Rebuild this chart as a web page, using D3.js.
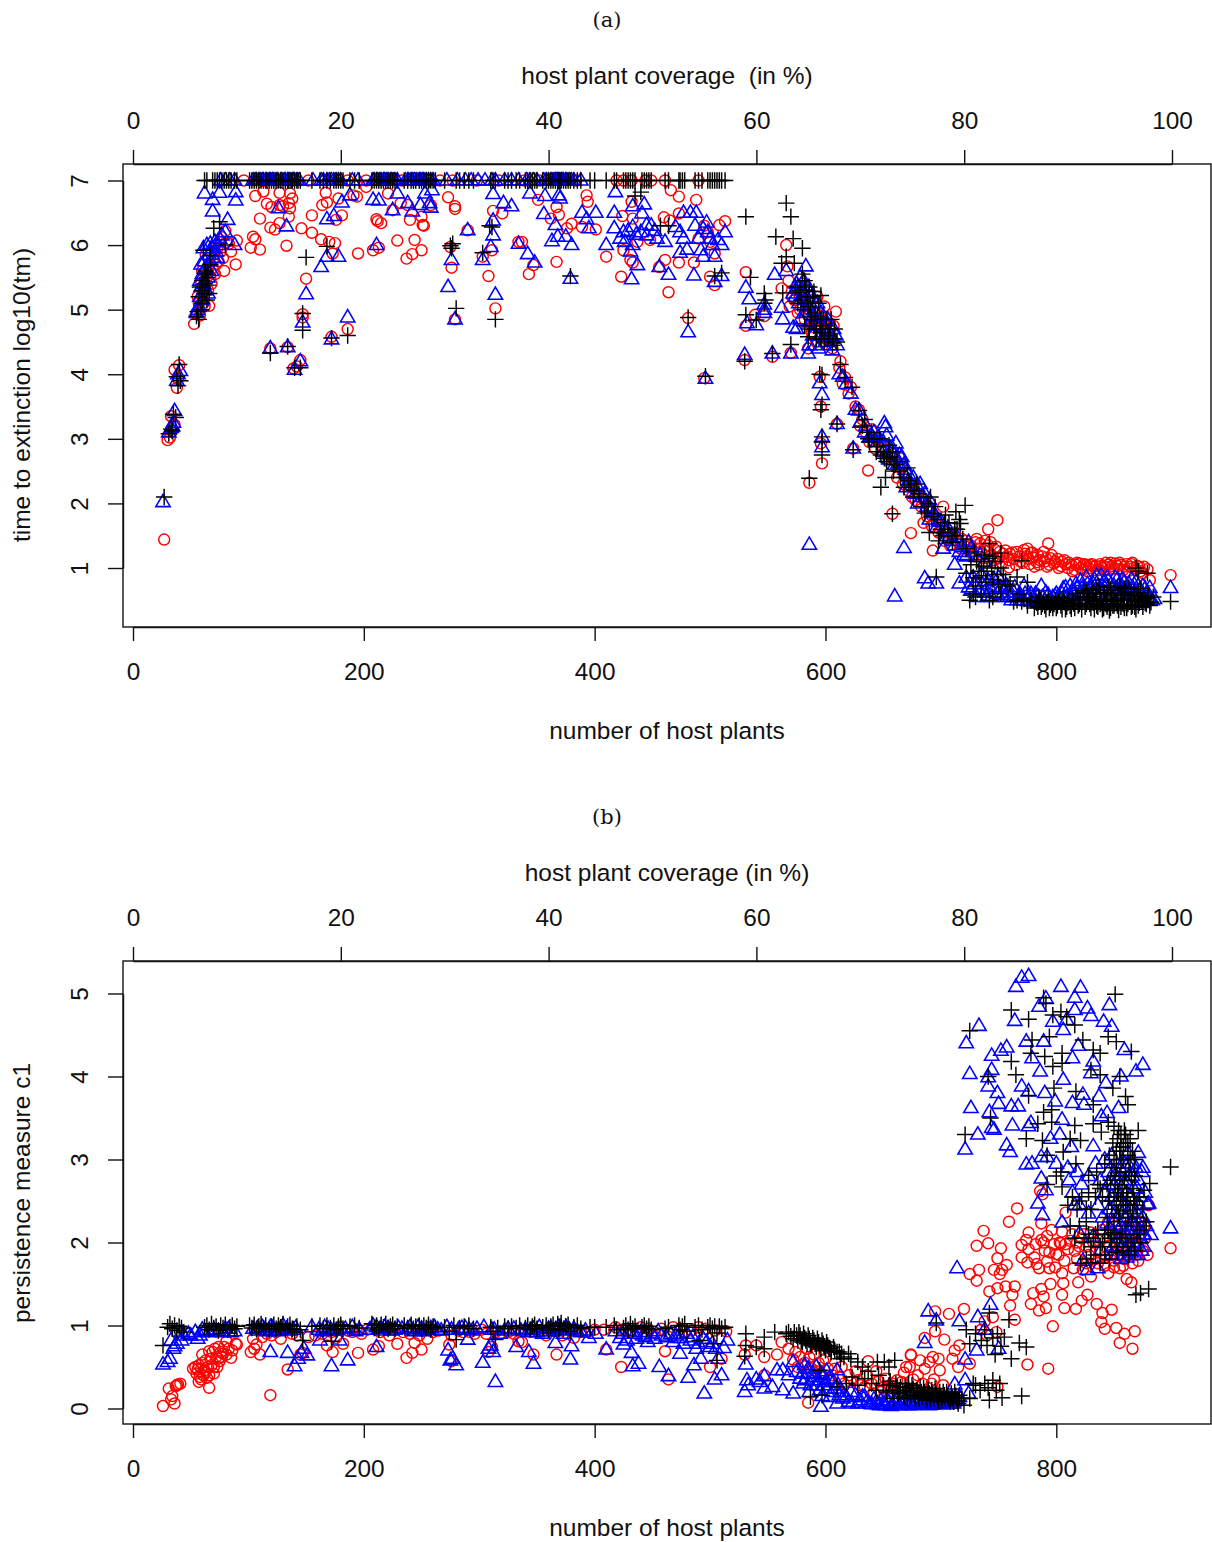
<!DOCTYPE html>
<html>
<head>
<meta charset="utf-8">
<script src="https://cdnjs.cloudflare.com/ajax/libs/d3/7.8.5/d3.min.js"></script>
<style>
    html, body { margin: 0; padding: 0; background: #fff; }
    svg { display: block; }
    text { font-family: "Liberation Sans", Arial, sans-serif; fill: #111; }
    .tag { font-family: "DejaVu Serif", "Liberation Serif", serif; }
</style>
</head>
<body>
<div id="chart"></div>
<script>
// Two scatter panels: extinction time and persistence against host plant count

const xTicks = [0, 200, 400, 600, 800];
const coverageTicks = [0, 20, 40, 60, 80, 100];
const yTicksA = [1, 2, 3, 4, 5, 6, 7];
const yTicksB = [0, 1, 2, 3, 4, 5];

// panel (a): crosses sitting on the 10^7 ceiling, x only
const plusCeilingA = [62,64,69,71,73,75,77,79,81,83,85,88,90,
    101,103,105,107,109,111,113,115,116,118,120,122,124,126,128,130,132,134,135,137,138,140,142,143,145,
    155,162,165,168,171,174,176,178,180,182,188,192,196,
    207,209,211,213,215,217,219,221,223,225,227,229,235,238,241,243,245,248,250,252,254,256,258,260,262,
    270,280,283,287,291,295,310,312,314,322,325,328,332,335,340,342,344,346,348,350,
    355,358,360,362,364,366,368,369,370,371,373,375,377,379,382,385,388,396,400,410,417,419,
    425,427,429,431,433,435,441,443,445,447,449,461,464,473,474,476,478,487,490,493,498,500,502,504,506,508,510,513];
const triangleCeilingA = [76,80,84,88,104,106,107,109,110,112,113,115,116,118,119,121,122,124,125,128,129,131,132,134,135,136,138,139,140,142,144,
    156,163,165,168,170,172,174,176,178,180,190,195,208,209,211,212,214,215,217,218,220,221,223,224,226,227,229,236,238,239,241,242,244,246,248,249,251,252,254,256,258,260,
    272,281,288,293,299,305,311,314,322,328,334,341,344,347,350,356,358,360,362,363,365,366,367,368,369,370,371,372,373,375,376,378,380,382,388];
const circleCeilingA = [96,126,138,152,186,202,233,266,277,298,317,339,352,384,419,425,432,444,449,461,490];

const circlesA = [[27,1.44],[30,2.98],[32,3.02],[34,3.12],[36,3.22],[33,3.35],[38,3.79],[36,4.07],[40,4.14],[39,3.93],
    [53,4.78],[66,5.06],[58,4.91],[60,5.2],[62,5.35],[57,5.1],[64,5.5],[68,5.4],[60,5.6],[66,5.7],[71,5.55],[63,5.85],[70,5.8],[74,5.75],[79,5.6],
    [89,5.7],[85,5.9],[90,6.07],[80,6.22],[75,6.05],[71,5.99],[77,6.12],[83,6.02],[68,5.9],
    [106,6.76],[113,6.83],[116,6.64],[120,6.59],[127,6.81],[136,6.8],[138,6.72],[135,6.65],[136,6.57],[127,6.62],[110,6.41],[119,6.27],[123,6.24],[127,6.34],[135,6.44],[130,6.6],
    [104,6.13],[106,6.09],[102,5.96],[110,5.93],[133,5.99],[146,6.26],[155,6.19],[155,6.46],[163,6.09],[175,6.03],[170,6.05],[173,5.87],[176,6.39],[181,6.46],[164,6.62],[168,6.66],[167,6.81],[178,6.72],
    [194,6.75],[191,6.77],[202,6.9],[221,6.8],[211,6.4],[212,6.37],[215,6.34],[208,5.92],[213,5.96],[195,5.87],[229,6.07],[244,6.08],[250,5.92],[242,5.86],[237,5.79],[240,6.39],[250,6.44],[251,6.31],[252,6.3],
    [225,6.54],[232,6.65],[238,6.62],[258,6.62],[273,6.74],[279,6.6],[279,6.56],[290,6.23],[275,5.97],[276,5.65],[308,5.52],[303,5.82],[311,5.92],[312,6.53],[320,6.49],[334,6.05],[314,5.02],[279,4.85],
    [186,4.7],[150,5.48],[147,4.93],[147,4.88],[172,4.58],[145,4.22],[139,4.09],[119,4.4],[134,4.42],[142,4.12],
    [337,6.05],[343,5.55],[347,5.69],[351,6.7],[367,5.74],[367,6.59],[369,6.47],[362,6.41],[393,6.77],[394,6.67],[380,6.33],[389,6.28],[401,6.24],[376,6.26],[410,5.82],[423,5.51],[424,6.45],[432,6.67],[433,6.41],[431,5.77],[433,5.73],[425,5.92],[437,6.05],[448,6.08],[456,5.66],[461,5.77],[473,5.73],[486,5.73],[464,5.27],[466,6.85],[473,6.75],[488,6.7],[460,6.43],[465,6.38],[473,6.49],[481,4.87],[508,6.31],[513,6.37],[495,3.94],[504,5.87],[500,5.51],[504,5.38],[490,6.1],[495,6.3],[498,6.2],[500,6.05],
    [531,5.58],[531,4.75],[539,4.92],[547,4.9],[566,6.0],[567,5.67],[562,5.33],[554,4.27],[530,4.22],[570,4.33],[585,4.4],[609,4.97],
    [613,4.2],[595,3.96],[573,5.15],[578,5.0],[582,4.85],[577,5.25],[585,5.3],[590,5.1],[594,4.95],[598,4.8],[603,4.7],[588,4.65],[592,4.5],[600,4.55],[606,4.4],
    [586,2.32],[597,2.62],[596,2.93],[596,3.5],[610,3.23],[624,2.85],[629,3.45],[637,2.51],[658,1.84],[674,1.54],[702,1.95],[693,1.27],[749,1.74],[741,1.6],[759,1.01],[793,1.38],[775,1.3],[778,1.23],[899,0.89],[879,0.98],[881,0.81],
    [617,3.95],[622,3.8],[632,3.3],[640,3.15],[645,3.0],[650,2.85],[655,2.75],[660,2.65],[665,2.55],[670,2.45],[676,2.3],[680,2.15],[686,2.05],[690,1.9],[696,1.75],[700,1.65],[705,1.55],[710,1.5],[715,1.4],
    [718,1.45],[722,1.42],[726,1.35],[730,1.4],[732,1.3],[735,1.25],[738,1.42],[741,1.35],[744,1.2],[747,1.28],[750,1.15],[754,1.22],[757,1.18],[760,1.22],[763,1.14],[766,1.25],[769,1.1],[772,1.28],[774,1.18],[777,1.06],[780,1.16],[783,1.09],[785,1.05],[788,1.18],[790,1.1],[792,1.02],[795,1.15],[798,1.07],[801,1.14],[804,1.03],[807,1.12],[810,1.0],[813,1.05],[816,0.97],[818,1.08],[821,1.0],[824,1.06],[827,0.95],[829,1.05],[832,1.02],[835,0.96],[838,1.06],[840,1.0],[843,1.08],[846,0.97],[848,1.03],[851,1.07],[854,0.98],[856,1.05],[859,1.02],[862,0.95],[865,1.06],[867,1.0],[870,1.03],[873,0.95],[876,1.02]];
const denseCirclesA = [[720,1.35],[724,1.28],[728,1.2],[731,1.45],[734,1.38],[737,1.15],[740,1.3],[743,1.4],[746,1.12],[748,1.33],[751,1.25],[753,1.08],[756,1.27],[759,1.12],[762,1.24],[765,1.05],[768,1.18],[771,1.08],[773,1.22],[776,1.14],[779,1.24],[781,1.02],[784,1.2],[786,1.12],[789,1.25],[791,1.15],[794,1.05],[796,1.2],[799,1.1],[802,1.0],[805,1.1],[808,1.06],[811,1.08],[814,0.95],[817,1.05],[820,1.07],[823,0.97],[826,1.05],[828,1.0],[831,1.06],[834,1.03],[837,0.97],[839,1.03],[842,1.02],[845,1.05],[847,1.08],[850,0.99],[853,1.03],[855,1.08],[858,0.97],[861,1.06],[864,1.02],[866,1.08],[869,0.97],[872,1.02],[875,0.92],
    [612,4.1],[615,3.85],[620,3.7],[626,3.5],[630,3.2],[635,3.1],[638,2.95],[643,2.85],[648,2.95],[652,2.7],[657,2.6],[662,2.4],[667,2.3],[672,2.2],[678,2.05],[683,1.95],[688,1.8],[692,1.65],[698,1.55],[703,1.42],[708,1.35],[712,1.55],[717,1.3],[685,1.7],[675,2.1],[665,2.7],
    [580,5.4],[583,5.1],[586,5.0],[589,4.85],[591,4.72],[593,5.2],[596,4.6],[599,5.05],[601,4.85],[604,4.55],[607,4.75],[576,4.95],[574,5.3],[571,5.2],[568,5.45],[569,5.05],
    [55,4.95],[59,5.4],[61,5.1],[63,5.6],[65,5.3],[67,5.5],[69,5.65],[72,5.7],[73,5.95],[76,5.9],[78,5.8],[81,6.05],[62,5.05],[56,5.2]];

const trianglesA = [[26,2.02],[31,3.1],[33,3.17],[35,3.25],[36,3.43],[34,3.2],[39,4.0],[41,4.05],[38,3.9],
    [55,4.95],[57,5.05],[59,5.35],[60,5.55],[62,5.75],[64,6.0],[66,5.85],[68,5.6],[70,5.8],[58,5.2],[63,5.3],[72,5.9],[61,5.95],[67,6.02],[75,6.1],
    [62,6.8],[75,6.81],[89,6.82],[89,6.69],[69,6.7],[69,6.52],[82,6.39],[80,6.2],[88,6.0],[74,6.0],
    [126,6.57],[133,6.29],[168,6.4],[174,6.45],[181,6.66],[188,6.77],[208,6.7],[213,6.69],[225,6.54],[229,6.8],[238,6.65],[242,6.52],[249,6.62],[257,6.65],[258,6.58],[253,6.8],[259,6.85],[211,6.0],[178,5.82],[168,5.82],[163,5.66],[150,5.24],[147,4.8],[119,4.4],[134,4.42],[145,4.2],[140,4.07],[172,4.54],[186,4.88],
    [290,6.23],[276,5.77],[273,5.35],[279,4.85],[312,6.79],[321,6.65],[328,6.6],[312,6.38],[312,6.15],[310,5.97],[303,5.77],[314,5.23],[334,6.02],
    [344,6.8],[357,6.76],[342,5.86],[348,5.73],[356,6.48],[366,6.31],[363,6.06],[368,6.13],[375,6.13],[380,6.0],[369,6.77],[370,6.72],[389,6.5],[401,6.5],[393,6.4],[395,6.26],[417,6.5],[417,6.26],[410,6.0],[379,5.48],[418,6.82],
    [433,6.6],[443,6.63],[441,6.49],[433,6.28],[422,6.1],[426,6.05],[433,6.0],[431,5.9],[437,5.69],[432,5.47],[445,6.31],[445,6.15],[454,6.1],[461,6.05],[456,5.66],[464,5.54],[477,6.5],[483,6.5],[488,6.5],[474,6.2],[477,6.1],[474,5.88],[480,5.93],[486,5.53],[497,6.35],[487,6.3],[490,6.1],[492,5.92],[494,5.82],[504,5.82],[500,6.1],[507,6.08],[513,6.2],[510,6.0],[510,5.52],[504,5.43],[481,4.65],[496,3.93],
    [425,6.2],[429,6.22],[436,6.16],[440,6.2],[449,6.3],[452,6.22],[470,6.28],[498,6.2],[502,6.0],[494,6.25],
    [531,5.34],[534,5.16],[532,4.79],[540,4.76],[547,5.0],[547,4.95],[547,5.08],[556,5.54],[566,5.6],[562,5.03],[563,4.85],[530,4.3],[554,4.32],[570,4.32],[585,4.32],[583,5.67],[572,4.72],[606,4.37],[615,3.96],[595,3.86],[597,3.68],
    [572,5.25],[575,5.4],[578,5.5],[580,5.3],[577,5.1],[582,5.15],[585,5.35],[588,5.2],[583,4.95],[586,4.8],[590,5.0],[592,4.75],[595,4.6],[598,4.9],[600,4.5],[603,4.65],[606,4.55],[609,4.6],[591,4.45],
    [586,1.36],[597,3.03],[597,2.87],[610,3.23],[624,2.85],[629,3.44],[651,3.24],[652,3.18],[661,2.93],[668,1.31],[660,0.56],[686,0.84],[689,0.76],[696,0.76],[702,1.3],[712,1.05],[724,1.4],[716,0.76],
    [635,3.2],[640,3.05],[645,2.95],[650,2.8],[655,2.68],[658,2.85],[664,2.75],[668,2.6],[672,2.45],[676,2.4],[680,2.25],[684,2.1],[690,2.05],[694,1.85],[698,1.72],[703,1.6],[708,1.5],[712,1.35],[716,1.25],[720,1.2],[728,1.25],[734,1.2],[738,1.1],
    [722,0.85],[726,0.65],[729,0.75],[731,0.55],[735,0.9],[738,0.62],[741,0.8],[744,0.55],[747,0.7],[750,0.85],[753,0.58],[757,0.72],[760,0.55],[763,0.62],[766,0.5],[769,0.58],[772,0.72],[775,0.5],[778,0.6],[781,0.52],[784,0.56],[787,0.72],[790,0.5],[793,0.58],[796,0.5],[799,0.56],[802,0.46],[805,0.6],[808,0.7],[811,0.52],[814,0.62],[817,0.75],[820,0.58],[823,0.7],[826,0.85],[829,0.6],[832,0.75],[835,0.88],[838,0.62],[841,0.78],[844,0.85],[847,0.58],[850,0.72],[853,0.83],[856,0.6],[859,0.78],[862,0.65],[865,0.82],[868,0.55],[871,0.72],[874,0.6],[877,0.68],[880,0.55],[881,0.69],[883,0.5],[899,0.69],
    [786,0.46],[800,0.44],[815,0.48],[830,0.5],[845,0.52],[860,0.48],[875,0.46],[885,0.52]];
const denseTrianglesA = [[612,4.0],[618,3.85],[622,3.7],[626,3.45],[630,3.25],[634,3.1],[638,3.02],[642,3.1],[646,3.02],[650,2.95],[653,3.05],[656,2.85],[660,2.75],[663,2.62],[666,2.72],[669,2.52],[672,2.35],[675,2.28],[678,2.15],[682,2.3],[686,2.15],[688,1.95],[692,1.9],[696,1.62],[700,1.72],[704,1.45],[706,1.62],[710,1.42],[714,1.48],[718,1.32],[722,1.18],[726,1.3],[660,2.6],[670,2.25],[680,2.0],[690,1.75],
    [724,0.7],[728,0.85],[733,0.65],[736,0.75],[740,0.55],[743,0.68],[746,0.82],[749,0.6],[752,0.7],[755,0.55],[758,0.62],[761,0.5],[764,0.7],[767,0.55],[770,0.5],[773,0.6],[776,0.55],[779,0.48],[782,0.6],[785,0.5],[788,0.55],[791,0.62],[794,0.48],[797,0.55],[800,0.6],[803,0.52],[806,0.68],[809,0.55],[812,0.72],[815,0.6],[818,0.68],[821,0.8],[824,0.62],[827,0.75],[830,0.68],[833,0.82],[836,0.72],[839,0.88],[842,0.68],[845,0.8],[848,0.68],[851,0.85],[854,0.72],[857,0.82],[860,0.68],[863,0.75],[866,0.7],[869,0.78],[872,0.65],[875,0.72],[878,0.6],
    [574,5.2],[576,5.35],[579,5.2],[581,5.45],[584,5.05],[587,5.25],[589,4.9],[593,5.1],[596,4.95],[599,4.7],[602,4.85],[604,4.45],[607,4.7],[610,4.45],[589,4.6],[586,4.45],[594,4.4],[578,4.85],[575,4.7],
    [56,5.0],[58,5.45],[60,5.15],[61,5.4],[63,5.65],[65,5.5],[67,5.75],[69,5.95],[71,6.05],[73,5.8],[77,6.15],[65,5.25],[59,5.7]];

const plusA = [[27,2.1],[31,3.08],[33,3.15],[35,3.38],[37,3.33],[34,3.12],[40,4.15],[38,3.96],[39,3.82],[41,3.9],
    [70,6.26],[75,6.36],[80,6.0],[61,5.92],[67,5.84],[62,5.56],[64,5.5],[58,5.35],[60,5.3],[66,5.25],[62,5.4],[65,5.38],[56,4.97],[55,4.9],[59,5.0],
    [150,5.81],[168,5.98],[147,4.94],[147,4.68],[119,4.33],[134,4.43],[140,4.1],[145,4.1],[172,4.56],[186,4.6],[275,5.99],[276,5.95],[277,6.02],[280,5.02],[314,4.85],[311,6.28],[303,5.88],[309,6.3],
    [379,5.52],[435,6.76],[440,6.82],[457,6.3],[464,6.3],[481,4.88],[496,3.97],[504,5.52],[510,5.57],
    [531,6.44],[535,5.5],[547,5.25],[548,5.15],[547,5.1],[531,4.92],[540,4.84],[554,4.32],[530,4.2],[570,4.46],[566,6.65],[570,6.44],[557,6.13],[572,6.1],[580,5.95],[566,5.82],[562,5.72],[573,5.72],[580,5.55],[586,5.35],[563,5.26],[576,5.26],[596,5.22],
    [574,5.35],[578,5.3],[582,5.45],[584,5.2],[587,5.1],[590,5.28],[588,4.85],[590,4.75],[593,4.9],[595,4.7],[596,4.55],[598,4.85],[600,4.75],[603,4.6],[605,4.85],[607,4.55],[592,4.55],[585,4.58],
    [595,4.0],[613,4.15],[617,3.95],[623,3.8],[597,3.99],[597,3.53],[596,3.45],[597,3.03],[597,2.95],[597,2.75],[586,2.39],[610,3.23],[624,2.83],[629,3.44],
    [632,3.2],[636,3.1],[638,2.95],[642,3.0],[645,2.88],[648,2.75],[651,2.7],[655,2.9],[658,2.8],[660,2.6],[664,2.5],[668,2.4],[671,2.55],[674,2.3],[677,2.2],[681,2.15],[658,1.84],[685,2.1],[688,1.95],[691,2.1],[694,1.85],[697,1.75],[700,1.6],[703,1.7],[706,1.55],[709,1.5],[712,1.6],[698,1.42],[690,1.55],[652,2.4],[648,2.25],
    [721,1.97],[713,1.87],[717,1.69],[714,1.6],[696,0.86],[742,1.38],[729,1.25],[745,1.18],[752,1.23],[735,1.1],[738,1.2],[770,1.11],[775,0.78],[766,0.86],[722,0.92],[725,0.5],[742,0.5],[763,0.48],[730,0.72],[735,0.88],[740,0.95],[745,0.82],[750,0.75],[754,0.9],[758,0.72],[728,0.6],
    [772,0.52],[775,0.42],[778,0.5],[781,0.38],[783,0.46],[785,0.55],[787,0.4],[789,0.48],[791,0.36],[793,0.52],[795,0.43],[797,0.38],[799,0.5],[801,0.42],[803,0.55],[805,0.36],[807,0.47],[809,0.4],[811,0.52],[813,0.37],[815,0.45],[817,0.6],[819,0.42],[821,0.5],[822,0.36],[824,0.65],[826,0.44],[828,0.55],[830,0.38],[831,0.68],[833,0.48],[834,0.6],[836,0.4],[837,0.72],[839,0.5],[840,0.36],[842,0.62],[843,0.44],[845,0.7],[846,0.34],[848,0.55],[849,0.42],[851,0.66],[852,0.48],[854,0.35],[855,0.72],[857,0.58],[858,0.44],[860,0.63],[861,0.38],[863,0.7],[864,0.5],[866,0.42],[867,0.62],[869,0.36],[870,0.56],[872,0.46],[873,0.68],[875,0.4],[876,0.52],[878,0.44],[880,0.58],[882,0.47],[884,0.55],[869,1.0],[871,0.95],[879,0.92],[899,0.48]];
const densePlusA = [[782,0.48],[784,0.4],[786,0.5],[788,0.44],[790,0.42],[792,0.47],[794,0.38],[796,0.46],[798,0.44],[800,0.38],[802,0.48],[804,0.42],[806,0.52],[808,0.36],[810,0.46],[812,0.41],[814,0.5],[816,0.38],[818,0.5],[820,0.44],[823,0.56],[825,0.4],[827,0.5],[829,0.44],[832,0.56],[833,0.36],[835,0.5],[835,0.66],[838,0.44],[838,0.6],[841,0.52],[841,0.38],[844,0.58],[844,0.4],[847,0.48],[847,0.66],[850,0.42],[850,0.58],[853,0.5],[853,0.7],[856,0.4],[856,0.6],[859,0.5],[859,0.68],[862,0.44],[862,0.58],[865,0.4],[865,0.62],[868,0.48],[868,0.58],[871,0.42],[871,0.62],[874,0.5],[877,0.46],[879,0.54],[881,0.42],
    [826,0.62],[829,0.52],[832,0.46],[835,0.42],[838,0.52],[841,0.62],[844,0.5],[847,0.38],[850,0.5],[853,0.42],[856,0.5],[859,0.38],[862,0.52],[865,0.5],[868,0.4],[871,0.52],
    [634,3.3],[637,3.0],[640,3.1],[644,2.8],[647,3.0],[650,2.8],[653,2.65],[656,2.72],[659,2.5],[662,2.65],[665,2.4],[668,2.25],[672,2.35],[676,2.1],[679,2.3],[683,1.95],[686,1.85],[689,2.0],[692,1.8],[695,1.95],[699,1.55],[702,1.5],[704,1.82],[707,1.7],[710,1.4],[713,1.5],[716,1.75],[719,1.45],[722,1.3],
    [726,1.05],[728,0.85],[731,1.1],[733,0.95],[737,1.02],[739,0.78],[742,1.15],[744,1.0],[747,1.1],[749,0.9],[752,1.0],[756,0.8],[760,0.75],[730,0.55],[735,0.6],[745,0.55],[752,0.6],[766,0.5],[768,0.6],[770,0.48],
    [576,5.1],[579,5.15],[581,5.0],[583,5.3],[585,5.05],[587,4.9],[589,5.2],[591,4.95],[592,4.7],[594,5.1],[596,4.85],[597,4.65],[599,4.5],[601,4.85],[602,4.55],[604,4.7],[606,4.45],[608,4.7],[586,4.7],[582,4.75],[610,4.5],
    [57,5.2],[60,5.45],[62,5.25],[63,5.6],[65,5.55],[67,5.7],[57,4.85],[60,5.1],[64,5.15]];

// panel (b)
const circlesB = [[26,0.03],[34,0.15],[31,0.24],[38,0.28],[41,0.3],[36,0.06],[33,0.11],[37,0.27],[39,0.29],
    [66,0.25],[57,0.32],[52,0.48],[60,0.65],[66,0.69],[74,0.74],[81,0.81],[90,0.77],[89,0.78],[85,0.61],[81,0.65],[75,0.57],[70,0.5],[63,0.44],[59,0.48],[64,0.37],[56,0.47],[61,0.4],[68,0.52],[72,0.62],[78,0.66],[54,0.5],[58,0.38],
    [102,0.68],[107,0.77],[110,0.65],[105,0.72],[119,0.16],[134,0.47],[147,0.67],[145,0.65],[173,0.68],[168,0.76],[195,0.67],[208,0.71],[213,0.75],[229,0.78],[244,0.79],[250,0.71],[242,0.67],[237,0.61],[274,0.77],[276,0.57],[308,0.68],[311,0.74],[334,0.81],
    [112,0.86],[120,0.88],[128,0.84],[138,0.9],[152,0.86],[158,0.88],[176,0.85],[182,0.78],[190,0.92],[203,0.95],[222,0.88],[234,0.92],[248,0.88],[255,0.84],[265,0.94],[286,0.92],[296,0.9],[302,0.95],[318,0.9],[325,0.92],[340,0.95],
    [347,0.65],[367,0.65],[337,0.8],[410,0.71],[423,0.5],[464,0.35],[461,0.69],[500,0.5],[510,0.6],[514,0.93],[372,0.88],[388,0.92],[400,0.95],[418,0.98],[430,0.92],[446,0.96],[468,0.98],[484,0.94],[496,0.96],
    [531,0.76],[530,0.65],[540,0.76],[547,0.62],[558,0.65],[547,0.4],[562,0.8],[585,0.07],[572,0.59],[586,0.62],[598,0.58],[580,0.52],[612,0.38],[620,0.4],[637,0.57],[644,0.45],[674,0.65],[670,0.5],[668,0.43],[628,0.34],[634,0.26],[652,0.36],[592,0.45],[602,0.48],[606,0.4],[576,0.5],[640,0.3],[648,0.2],[656,0.28],[662,0.34],[680,0.4],[692,0.3],
    [766,2.41],[759,2.25],[737,2.14],[731,1.96],[741,1.99],[752,1.93],[749,1.81],[757,1.73],[725,1.62],[733,1.67],[731,1.54],[746,1.67],[753,1.67],[751,1.62],[742,1.41],[749,1.45],[756,1.47],[764,1.47],[762,1.37],[760,1.24],[764,1.07],[720,1.2],[707,1.14],[695,1.17],[703,0.83],[695,0.93],[686,0.85],[674,0.64],[693,0.62],[712,0.7],[716,0.76],[710,0.6],[715,0.5],[725,0.54],[775,0.53],[793,0.48],[749,0.26],[673,0.5],[686,0.48],[690,0.56],[699,0.46],[682,0.58],[698,0.6],
    [735,0.95],[738,1.05],[745,1.1],[740,0.88],[748,0.92],
    [797,0.99],[778,1.26],[780,1.39],[787,1.44],[789,1.35],[785,1.18],[791,1.21],[805,1.37],[807,1.21],[817,1.2],[822,1.3],[827,1.37],[835,1.26],[840,1.15],[848,1.19],[839,1.04],[842,0.96],[852,0.97],[859,0.9],[868,0.93],[855,0.79],[866,0.72],[861,1.56],[865,1.52],
    [770,1.82],[770,1.97],[774,2.03],[776,2.12],[776,1.92],[781,1.82],[785,1.69],[794,1.69],[795,1.5],[806,1.51],[805,1.63],[819,1.52],[787,2.03],[789,2.0],[792,1.77],[799,1.7],[807,1.78],[815,1.69],[787,2.23],[796,2.15],[808,2.36],[805,2.13],[803,2.0],[804,1.99],[810,1.92],[818,1.8],[823,1.67],[830,1.59],[845,1.63],[855,1.69],[871,1.78],[879,1.85],[880,2.45],[899,1.93],
    [786,2.62],[788,2.58],[798,1.98],[800,1.86],[812,2.02],[816,1.9],[820,1.95],[824,2.1],[828,1.85],[832,2.0],[836,1.75],[838,1.9],[842,1.82],[846,1.96],[850,1.78],[852,1.9],[856,1.85],[860,2.05],[864,1.95],[868,2.25],[872,2.1],[876,2.2],[790,1.9],[794,1.88],[775,1.76],[783,1.74]];
const denseCirclesB = [[822,2.05],[826,1.95],[830,2.12],[834,1.9],[837,2.02],[840,2.15],[843,1.95],[845,2.25],[847,1.85],[849,2.1],[851,2.2],[853,1.82],[855,2.1],[857,2.0],[859,1.8],[861,2.2],[863,1.85],[865,2.1],[867,2.0],[869,1.85],[871,1.95],[873,2.25],[875,1.9],[877,2.05],[814,2.1],[818,2.0],[808,1.98],[802,1.85],[792,2.08],[782,1.98],[826,1.75],[834,1.8],[842,1.72],[850,1.7],[858,1.72],[866,1.75],
    [55,0.42],[57,0.52],[59,0.35],[60,0.55],[62,0.46],[63,0.58],[65,0.5],[66,0.4],[67,0.6],[69,0.68],[70,0.42],[71,0.72],[73,0.5],[74,0.6],[76,0.68],[77,0.62],[79,0.74],[83,0.72],[86,0.7],
    [104,0.84],[116,0.9],[124,0.92],[132,0.95],[142,0.88],[164,0.9],[172,0.92],[186,0.94],[198,0.9],[214,0.92],[226,0.95],[240,0.9],[260,0.92],[276,0.88],[282,0.94],[292,0.92],[306,0.9],[314,0.92],[330,0.9],[352,0.92],[358,0.88],[364,0.94],[376,0.9],[382,0.85],[394,0.92],[408,0.95],[424,0.95],[436,0.9],[440,0.98],[452,0.92],[458,0.96],[474,0.95],[478,0.92],[490,0.98],[504,0.94],
    [568,0.72],[574,0.68],[578,0.62],[582,0.55],[584,0.72],[588,0.48],[590,0.65],[594,0.55],[596,0.42],[600,0.6],[604,0.35],[608,0.48],[614,0.5],[616,0.3],[622,0.32],[626,0.45],[630,0.28],[636,0.4],[642,0.18],[646,0.33],[650,0.25],[654,0.15],[658,0.3],[664,0.2],[666,0.32],[672,0.22],[676,0.35],[684,0.3],[688,0.2],[694,0.35],[702,0.28]];

const trianglesB = [[26,0.53],[32,0.6],[35,0.72],[36,0.75],[33,0.82],[42,0.82],[48,0.9],[56,0.84],[88,0.93],[60,0.95],[66,0.92],[74,0.93],[80,0.96],[85,0.92],[30,0.56],[38,0.78],[44,0.88],
    [119,0.68],[134,0.67],[140,0.51],[146,0.67],[151,0.64],[162,0.82],[179,0.82],[172,0.51],[186,0.58],[211,0.74],[273,0.7],[275,0.58],[280,0.52],[290,0.83],[314,0.32],[303,0.55],[308,0.72],[310,0.76],[312,0.68],[332,0.74],[277,0.6],[143,0.6],[148,0.72],
    [104,0.96],[108,0.94],[112,0.98],[116,0.93],[121,0.97],[126,0.95],[130,1.0],[136,0.94],[141,0.97],[155,0.98],[164,0.93],[169,0.96],[174,0.94],[180,0.97],[190,0.98],[196,0.95],[208,1.0],[214,0.96],[218,0.98],[224,0.94],[230,0.97],[238,0.96],[242,0.94],[247,0.98],[252,0.93],[258,0.97],[264,0.95],[272,0.98],[282,0.95],[288,0.97],[294,0.94],[304,0.98],[313,0.95],[318,0.9],[325,0.96],[336,0.94],
    [343,0.68],[347,0.54],[366,0.79],[380,0.75],[379,0.59],[395,0.85],[401,0.9],[410,0.71],[425,0.77],[432,0.67],[438,0.54],[433,0.51],[456,0.5],[464,0.39],[481,0.37],[486,0.52],[495,0.18],[504,0.35],[510,0.4],[492,0.6],[474,0.66],[507,0.6],
    [345,0.95],[350,0.92],[355,0.9],[360,0.96],[364,0.93],[369,0.98],[373,0.9],[378,0.95],[385,0.93],[392,0.94],[418,0.93],[422,0.85],[428,0.82],[436,0.84],[442,0.88],[446,0.8],[452,0.84],[458,0.88],[468,0.8],[472,0.85],[477,0.78],[483,0.82],[490,0.78],[497,0.8],[502,0.78],[512,0.73],[515,0.82],
    [530,0.2],[532,0.34],[531,0.53],[540,0.35],[547,0.24],[547,0.39],[554,0.26],[558,0.46],[563,0.22],[572,0.18],[563,0.46],[572,0.56],[582,0.52],[586,0.2],[596,0.02],[597,0.15],[610,0.06],[623,0.06],[610,0.46],[533,0.28],[543,0.32],
    [568,0.4],[575,0.44],[578,0.36],[581,0.3],[584,0.42],[588,0.34],[591,0.38],[593,0.28],[596,0.42],[600,0.32],[602,0.24],[606,0.2],[614,0.2],[618,0.14],[626,0.16],[630,0.1],[634,0.14],[638,0.06],[642,0.11],[645,0.05],[648,0.09],[652,0.04],[655,0.08],[658,0.05],[661,0.1],[664,0.04],[667,0.07],[670,0.05],[673,0.1],[676,0.04],[679,0.07],[682,0.05],[685,0.11],[688,0.05],[691,0.08],[694,0.05],[697,0.12],[700,0.05],[703,0.09],[706,0.06],[709,0.12],[712,0.29],[716,0.14],[721,0.34],[724,0.18],
    [722,4.4],[733,4.61],[765,5.08],[770,5.19],[776,5.21],[804,5.08],[821,5.07],[816,4.95],[791,4.94],[785,4.84],[816,4.8],[827,4.82],[830,4.73],[846,4.86],[764,4.67],[797,4.66],[806,4.56],[809,4.68],[841,4.66],[848,4.6],[774,4.42],[789,4.42],[819,4.37],[859,4.32],[757,4.35],[752,4.31],[744,4.25],[744,4.08],[741,3.99],[725,4.03],[779,4.22],[814,4.22],[832,4.18],[786,4.06],[806,3.96],[830,4.04],[843,3.92],[869,4.06],[875,4.14],[856,4.0],[741,3.88],[749,3.8],[770,3.88],[776,3.82],[790,3.8],[750,3.67],[726,3.62],[742,3.57],[761,3.64],[767,3.64],[799,3.7],[814,3.68],[823,3.78],[824,3.66],[837,3.76],[854,3.62],[732,3.3],[744,3.38],[746,3.36],[762,3.41],[721,3.12],[757,3.17],[760,3.09],[776,3.4],[778,3.44],[774,2.94],[779,2.95],[787,3.03],[792,3.03],[800,2.95],[805,3.48],[839,3.52],[844,3.56],[803,3.3],[813,3.15],[832,3.16],[795,3.25],[787,2.77],[811,2.75],[791,2.63],[814,2.6],[784,2.47],[816,2.45],[871,3.08],[862,3.08],[875,2.9],[880,2.47],
    [899,2.17],[882,2.09],[879,2.46],[805,2.24],[788,2.33],[820,2.11],[832,2.07],[844,2.23],[823,1.78],[827,1.67],[836,1.69],[839,1.91],[714,1.69],[689,1.17],[696,1.06],[686,0.79],[721,0.59],[716,1.05],[732,1.1],[743,1.25],[738,0.95],[731,0.7],[750,0.72],
    [810,2.9],[818,2.85],[822,2.7],[828,2.8],[834,2.95],[838,2.75],[842,2.6],[845,2.85],[848,3.05],[850,2.7],[853,2.5],[855,2.9],[857,2.35],[860,2.75],[862,2.95],[864,2.55],[866,2.8],[868,2.3],[870,2.65],[872,2.45],[874,2.85],[846,2.4],[850,2.25],[854,2.15],[858,2.05],[862,1.95],[866,2.1],[870,2.0],[874,1.9],[848,1.85],[852,2.0],[856,1.8],[860,1.9],[864,2.2],[868,1.85],[876,2.1],[878,2.2],[840,2.3],[836,2.45],[828,2.35],[820,2.45]];
const denseTrianglesB = [[842,3.0],[845,2.7],[848,2.55],[850,2.85],[851,2.35],[853,2.75],[855,2.55],[856,2.2],[857,2.75],[858,2.45],[859,2.95],[860,2.3],[861,2.6],[862,2.15],[863,2.8],[864,2.4],[865,2.95],[866,2.25],[867,2.65],[868,2.05],[869,2.9],[870,2.35],[871,2.75],[872,2.15],[873,2.55],[875,2.3],[876,1.95],[877,2.6],[847,2.15],[849,1.95],[851,2.1],[853,1.85],[855,2.05],[857,1.95],[859,2.15],[861,1.82],[863,2.0],[865,1.88],[867,2.2],[869,1.95],[871,1.85],[873,2.05],[875,2.1],
    [108,0.97],[114,0.95],[119,0.98],[124,0.93],[128,0.97],[133,0.96],[139,0.95],[161,0.95],[166,0.98],[172,0.94],[177,0.95],[184,0.96],[193,0.93],[205,0.95],[211,0.98],[216,0.94],[221,0.97],[227,0.95],[233,0.96],[240,0.98],[245,0.93],[250,0.96],[255,0.95],[261,0.98],[267,0.94],[276,0.95],[285,0.97],[291,0.95],[298,0.96],[311,0.95],[322,0.94],[330,0.96],[340,0.95],[342,0.92],[347,0.96],[352,0.98],[358,0.93],[362,0.97],[367,0.95],[371,0.94],[375,0.98],[382,0.96],[388,0.92],[424,0.9],[430,0.93],[435,0.9],[440,0.92],[444,0.86],[450,0.9],[455,0.93],[462,0.86],[466,0.9],[470,0.88],[475,0.85],[480,0.9],[485,0.86],[488,0.72],[494,0.84],[500,0.74],[505,0.72],
    [580,0.42],[582,0.34],[585,0.48],[587,0.28],[589,0.42],[592,0.5],[594,0.34],[595,0.22],[598,0.4],[599,0.28],[601,0.45],[603,0.36],[604,0.14],[607,0.32],[608,0.24],[611,0.28],[612,0.16],[615,0.12],[620,0.08],[622,0.2],[628,0.06],[632,0.14],[636,0.08],[640,0.05],[644,0.08],[647,0.04],[650,0.06],[653,0.1],[657,0.03],[660,0.07],[663,0.12],[666,0.05],[669,0.09],[672,0.04],[675,0.07],[678,0.05],[681,0.1],[684,0.06],[687,0.08],[690,0.04],[693,0.07],[696,0.1],[699,0.06],[702,0.1],[705,0.05],[708,0.08],[711,0.06],[714,0.1],
    [42,0.92],[50,0.88],[54,0.92],[58,0.88],[62,0.93],[70,0.95],[78,0.92],[83,0.96]];

const plusCeilingB = [[26,0.76],[30,0.98],[32,1.02],[34,0.96],[36,1.0],[38,0.94],[40,0.99],[42,0.97],[44,0.92],
    [62,0.98],[64,1.0],[66,0.95],[68,1.02],[70,0.97],[72,0.99],[74,0.94],[76,1.0],[78,0.97],[80,1.01],[82,0.95],[84,0.98],[86,1.0],[88,0.96],[90,0.99],
    [101,1.0],[103,0.97],[105,1.01],[107,0.96],[109,0.99],[111,1.02],[113,0.97],[115,1.0],[118,0.95],[120,0.99],[122,1.01],[124,0.96],[126,1.0],[128,0.98],[130,1.02],[132,0.95],[134,0.99],[136,1.01],[138,0.96],[140,0.92],[142,0.99],[145,0.95],
    [147,0.82],[155,0.99],[162,1.0],[165,0.96],[168,1.0],[171,0.97],[172,0.81],[174,1.0],[176,0.95],[178,0.99],[180,1.01],[182,0.96],[188,0.99],[192,1.0],[196,0.97],
    [207,1.02],[209,0.97],[211,1.0],[213,0.95],[215,1.01],[217,0.98],[219,1.02],[221,0.96],[223,0.99],[225,1.01],[227,0.96],[229,0.99],[235,1.0],[238,0.97],[241,1.01],[243,0.96],[245,0.99],[248,1.0],[250,0.96],[252,1.0],[254,0.97],[256,1.01],[258,0.95],[260,0.99],[262,0.97],
    [270,0.98],[274,0.93],[278,1.0],[280,0.83],[283,0.97],[287,0.99],[291,1.0],[295,0.96],[310,0.98],[312,0.93],[314,0.83],[316,0.97],[322,0.99],[325,0.96],[328,0.99],[332,0.97],[335,1.0],
    [340,0.97],[342,1.0],[344,0.95],[346,0.99],[348,1.01],[350,0.96],[355,0.98],[358,1.0],[360,0.95],[362,0.99],[364,1.01],[366,0.96],[368,1.02],[369,0.95],[370,0.99],[371,1.03],[373,0.96],[375,0.99],[377,1.01],[379,0.93],[382,0.98],[385,1.0],[388,0.96],[396,0.98],[400,0.98],[410,0.98],[417,1.0],[419,0.95],
    [425,0.97],[427,1.0],[429,0.95],[431,1.02],[433,0.96],[435,0.99],[441,0.98],[443,1.0],[445,0.96],[447,0.99],[449,0.95],[461,0.96],[464,0.98],[473,1.0],[474,0.95],[476,0.99],[478,1.02],[480,0.93],[487,0.98],[490,1.0],[493,0.95],[498,0.98],[500,1.0],[502,0.96],[504,0.99],[506,0.91],[508,0.99],[510,0.96],[513,0.98],[491,0.82],[506,0.58],[503,0.78]];

const plusB = [[531,0.9],[547,0.86],[531,0.76],[530,0.63],[540,0.74],[547,0.72],[556,0.92],[566,0.9],[570,0.87],[573,0.92],[576,0.82],[578,0.88],[580,0.8],[582,0.85],[584,0.78],[586,0.84],[588,0.76],[590,0.82],[592,0.74],[594,0.8],[596,0.72],[598,0.78],[600,0.7],[602,0.76],[604,0.72],[607,0.74],[610,0.68],[614,0.66],[616,0.62],[620,0.66],[622,0.6],[628,0.56],[632,0.5],[637,0.45],[645,0.56],[651,0.56],[655,0.5],[660,0.58],
    [595,0.46],[597,0.16],[587,0.14],[610,0.26],[613,0.6],[618,0.3],[623,0.38],[628,0.28],[634,0.36],[640,0.3],[644,0.22],[646,0.4],[650,0.28],[653,0.2],[656,0.33],[658,0.22],[661,0.3],[663,0.18],[665,0.26],[668,0.14],[670,0.22],[672,0.3],[674,0.16],[676,0.24],[678,0.12],[680,0.2],[682,0.26],[684,0.14],[686,0.2],[688,0.1],[690,0.18],[692,0.22],[694,0.12],[696,0.17],[698,0.08],[700,0.14],[702,0.2],[704,0.1],[706,0.15],[708,0.08],[710,0.13],[712,0.2],[714,0.09],[716,0.16],[720,0.04],
    [696,1.03],[742,1.15],[759,1.07],[722,0.95],[749,0.9],[755,0.86],[768,0.79],[774,0.74],[747,0.65],[761,0.6],[725,0.78],[730,0.9],[735,0.82],[738,0.95],[740,0.76],[745,0.85],[752,0.75],[770,0.15],[753,0.13],[742,0.1],[730,0.28],[734,0.22],[738,0.3],[741,0.25],[745,0.34],[748,0.22],[751,0.3],[725,0.12],[728,0.3],
    [725,4.55],[721,3.3],[761,4.8],[776,4.69],[789,4.95],[791,4.88],[797,4.74],[804,4.78],[809,4.72],[816,4.62],[851,4.99],[761,4.18],[765,4.02],[741,4.0],[743,3.5],[776,3.77],[778,4.28],[779,4.44],[794,4.48],[805,4.28],[805,4.16],[790,4.24],[797,4.12],[823,4.44],[832,4.32],[838,4.28],[845,4.48],[852,4.42],[865,4.3],[830,4.08],[838,4.02],[855,4.0],[849,3.86],[798,3.86],[817,3.82],[832,3.66],[860,3.76],[862,3.66],[789,3.57],[796,3.6],[784,3.43],[816,3.41],[832,3.43],[845,3.45],[871,3.35],[859,3.35],[774,3.25],[788,3.23],[821,3.23],[839,3.33],[806,3.09],[804,2.85],[817,2.95],[828,2.81],[899,2.91],[881,2.71],[876,2.63],[805,2.67],[792,3.05],[812,3.25],[796,3.45],
    [850,3.4],[853,3.25],[856,3.3],[858,3.15],[860,3.2],[862,3.05],[855,3.1],[850,3.0],[852,2.9],[856,2.95],[860,2.85],[864,3.0],[847,2.75],[851,2.7],[854,2.6],[858,2.55],[862,2.5],[866,2.65],[842,2.95],[838,2.65],[845,2.5],[835,2.85],[868,2.8],[872,2.55],[844,2.3],[850,2.25],[855,2.3],[860,2.2],[865,2.25],[870,2.3],[876,2.2],[847,2.05],[852,1.95],[857,2.1],[862,1.95],[867,2.05],[872,2.15],
    [818,2.4],[822,2.55],[826,2.25],[830,2.4],[834,2.55],[812,2.2],[816,2.05],[820,2.2],[824,2.0],[828,2.1],[832,2.05],[836,2.15],[840,2.0],[830,1.76],[826,1.8],[834,1.85],[838,1.75],[842,1.85],[821,1.75],[846,1.8],[869,1.37],[873,1.39],[880,1.44]];
const densePlusB = [[846,3.05],[848,2.9],[849,3.2],[851,2.8],[852,3.1],[853,2.6],[854,3.35],[855,2.8],[856,3.15],[857,2.65],[858,3.0],[859,2.75],[860,3.3],[861,2.6],[862,3.2],[863,2.85],[864,3.25],[865,2.8],[866,3.1],[867,2.55],[868,3.0],[844,2.7],[846,2.55],[848,2.4],[850,2.55],[852,2.45],[854,2.35],[856,2.5],[858,2.38],[860,2.45],[862,2.3],[864,2.45],[866,2.35],[868,2.5],[870,2.45],[845,2.15],[848,2.0],[850,2.12],[853,1.88],[855,2.05],[858,1.9],[860,2.05],[863,1.85],[865,2.0],[868,1.9],[870,2.1],[873,2.0],[842,2.1],[838,1.95],[834,2.1],[830,1.95],[826,2.4],[828,2.6],[840,2.55],[836,2.7],[878,2.25],[875,2.4],[820,2.5],[810,2.45],[814,2.55],[800,2.8],[792,2.7],
    [568,0.92],[572,0.84],[575,0.88],[577,0.92],[579,0.82],[581,0.9],[583,0.82],[585,0.88],[587,0.78],[589,0.85],[591,0.78],[593,0.84],[595,0.76],[597,0.82],[599,0.74],[601,0.8],[603,0.72],[605,0.68],[608,0.7],[612,0.68],
    [655,0.28],[659,0.12],[662,0.26],[664,0.22],[667,0.2],[669,0.26],[671,0.12],[673,0.2],[675,0.28],[677,0.15],[679,0.22],[681,0.12],[683,0.2],[685,0.25],[687,0.16],[689,0.22],[691,0.12],[693,0.18],[695,0.24],[697,0.14],[699,0.2],[701,0.1],[703,0.16],[705,0.2],[707,0.12],[709,0.18],[711,0.08],[713,0.15],[715,0.06],[718,0.12]];

const plotBox = { left: 123, right: 1211, width: 1088, height: 463 };
const xPx = d3.scaleLinear().domain([0, 800]).range([133, 1056.3]);
const coveragePx = d3.scaleLinear().domain([0, 100]).range([133, 1172]);

const svg = d3.select('#chart').append('svg').attr('width', 1212).attr('height', 1542);

function addTicks(g, axis) {
    g.call(axis);
    g.select('.domain').attr('stroke', '#111').attr('stroke-width', 1.4);
    g.selectAll('.tick line').attr('stroke', '#111').attr('stroke-width', 1.4);
    g.selectAll('text').attr('font-size', 24.4).attr('fill', '#111')
        .style('font-family', '"Liberation Sans", Arial, sans-serif');
}

function drawPanel(panel) {
    const y = d3.scaleLinear().domain(panel.yDomain).range(panel.yRange);
    const top = panel.top;
    const bottom = top + plotBox.height;
    const g = svg.append('g');

    // circles first, then triangles, crosses on top, as the original was plotted
    g.append('g').selectAll('circle').data(panel.circles).enter().append('circle')
        .attr('cx', d => xPx(d[0]))
        .attr('cy', d => y(d[1]))
        .attr('r', 5.5)
        .attr('fill', 'none')
        .attr('stroke', '#f00')
        .attr('stroke-width', 1.45);

    g.append('g').selectAll('path').data(panel.triangles).enter().append('path')
        .attr('transform', d => `translate(${xPx(d[0])},${y(d[1])})`)
        .attr('d', 'M-7.2,4.5L7.2,4.5L0,-7.8Z')
        .attr('fill', 'none')
        .attr('stroke', '#00f')
        .attr('stroke-width', 1.55);

    g.append('g').selectAll('path').data(panel.plus).enter().append('path')
        .attr('transform', d => `translate(${xPx(d[0])},${y(d[1])})`)
        .attr('d', 'M-8.2,0H8.2M0,-8.2V8.2')
        .attr('fill', 'none')
        .attr('stroke', '#000')
        .attr('stroke-width', 1.45);

    g.append('rect')
        .attr('x', plotBox.left).attr('y', top)
        .attr('width', plotBox.width).attr('height', plotBox.height)
        .attr('fill', 'none').attr('stroke', '#111').attr('stroke-width', 1.4);

    addTicks(g.append('g').attr('transform', `translate(0,${bottom})`),
        d3.axisBottom(xPx).tickValues(xTicks).tickFormat(d3.format('d')).tickSize(14).tickSizeOuter(0).tickPadding(22));
    addTicks(g.append('g').attr('transform', `translate(0,${top})`),
        d3.axisTop(coveragePx).tickValues(coverageTicks).tickFormat(d3.format('d')).tickSize(14).tickSizeOuter(0).tickPadding(21));

    const yAxis = g.append('g').attr('transform', `translate(${plotBox.left},0)`);
    addTicks(yAxis, d3.axisLeft(y).tickValues(panel.yTicks).tickFormat(d3.format('d')).tickSize(15).tickSizeOuter(0));
    yAxis.selectAll('.tick text')
        .attr('transform', 'rotate(-90)')
        .attr('x', 0).attr('y', -35)
        .attr('dy', 0)
        .attr('text-anchor', 'middle');

    g.append('text').attr('class', 'tag')
        .attr('x', 607).attr('y', top - 137)
        .attr('text-anchor', 'middle').attr('font-size', 21)
        .text(panel.tag);
    g.append('text')
        .attr('x', 667).attr('y', top - 80)
        .attr('text-anchor', 'middle').attr('font-size', 24.5)
        .style('white-space', 'pre')
        .text(panel.topTitle);
    g.append('text')
        .attr('x', 667).attr('y', bottom + 112)
        .attr('text-anchor', 'middle').attr('font-size', 24.5)
        .text('number of host plants');
    g.append('text')
        .attr('transform', `translate(30,${panel.yTitleMid}) rotate(-90)`)
        .attr('text-anchor', 'middle').attr('font-size', 24.5)
        .text(panel.yTitle);
}

drawPanel({
    tag: '(a)', top: 164, topTitle: 'host plant coverage  (in %)', yTitle: 'time to extinction log10(tm)', yTitleMid: 395,
    yDomain: [1, 7], yRange: [568, 180.5], yTicks: yTicksA,
    circles: circlesA.concat(denseCirclesA, circleCeilingA.map(d => [d, 7])),
    triangles: trianglesA.concat(denseTrianglesA, triangleCeilingA.map(d => [d, 7])),
    plus: plusA.concat(densePlusA, plusCeilingA.map(d => [d, 7]))
});

drawPanel({
    tag: '(b)', top: 961, topTitle: 'host plant coverage (in %)', yTitle: 'persistence measure c1', yTitleMid: 1193,
    yDomain: [0, 5], yRange: [1408.5, 993.5], yTicks: yTicksB,
    circles: circlesB.concat(denseCirclesB),
    triangles: trianglesB.concat(denseTrianglesB),
    plus: plusCeilingB.concat(plusB, densePlusB)
});
</script>
</body>
</html>
